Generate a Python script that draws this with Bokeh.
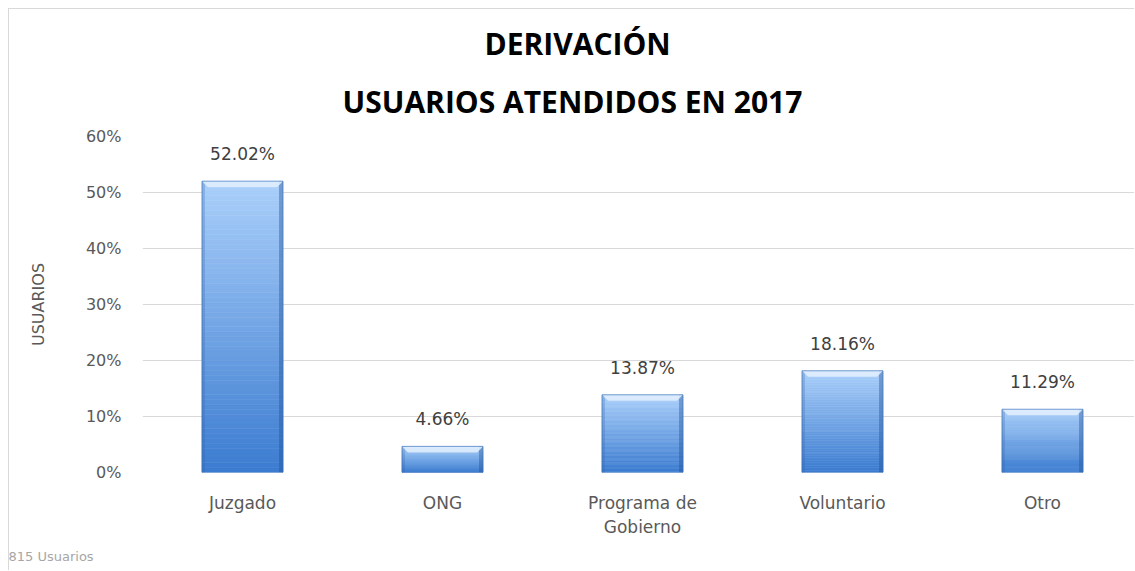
import numpy as np
from bokeh.plotting import figure
from bokeh.models import Range1d, FixedTicker, NumeralTickFormatter, Title, ColumnDataSource
from bokeh.embed import file_html
from bokeh.resources import INLINE
from bokeh.core.properties import value

# ---------------- data ----------------
categories = ["Juzgado", "ONG", "Programa de\nGobierno", "Voluntario", "Otro"]
percent_values = [52.02, 4.66, 13.87, 18.16, 11.29]
value_labels = ["52.02%", "4.66%", "13.87%", "18.16%", "11.29%"]
y_tick_values = [0.0, 0.1, 0.2, 0.3, 0.4, 0.5, 0.6]
title_line1 = "DERIVACIÓN"
title_line2 = "USUARIOS ATENDIDOS EN 2017"
y_axis_title = "USUARIOS"
footnote = "815 Usuarios"

# ---------------- layout ----------------
W, H = 1126, 562
FONT = "DejaVu Sans"
PX_X = 1.0 / 200.0          # x data units per pixel
PX_Y = 0.6 / 336.0          # y data units per pixel

p = figure(width=W, height=H, output_backend="svg", toolbar_location=None,
           x_range=Range1d(0, 993 * PX_X), y_range=Range1d(0, 0.6),
           min_border_left=133, min_border_right=0, min_border_top=127,
           min_border_bottom=99)
p.background_fill_color = "white"
p.border_fill_color = "white"
p.outline_line_color = None
p.styles = {"margin-left": "8px", "margin-top": "8px",
            "border-top": "1px solid #d9d9d9", "border-left": "1px solid #d9d9d9"}

xs = [i + 0.5 for i in range(len(categories))]
fracs = [v / 100.0 for v in percent_values]
bw = 81 * PX_X

# gradient bar bodies
N = 60
top_c = np.array([170, 207, 250])
bot_c = np.array([60, 124, 208])
L, R, B, T, C = [], [], [], [], []
for x, v in zip(xs, fracs):
    for k in range(N):
        f = k / (N - 1)
        c = bot_c + (top_c - bot_c) * f
        L.append(x - bw / 2)
        R.append(x + bw / 2)
        B.append(v * k / N)
        T.append(v * (k + 1) / N)
        C.append("#%02x%02x%02x" % tuple(int(round(t)) for t in c))
p.quad(left=L, right=R, bottom=B, top=T, fill_color=C, line_color=C, line_width=0.6)

# side shading
p.quad(left=[x - bw / 2 for x in xs], right=[x - bw / 2 + 3 * PX_X for x in xs],
       bottom=[0] * len(xs), top=fracs, fill_color="#2a5ea8", fill_alpha=0.25, line_color=None)
p.quad(left=[x + bw / 2 - 4 * PX_X for x in xs], right=[x + bw / 2 for x in xs],
       bottom=[0] * len(xs), top=fracs, fill_color="#1f4f96", fill_alpha=0.40, line_color=None)

# top bevel
bx = 6 * PX_X
by = 6 * PX_Y
pxs, pys = [], []
for x, v in zip(xs, fracs):
    pxs.append([x - bw / 2, x + bw / 2, x + bw / 2 - bx, x - bw / 2 + bx])
    pys.append([v, v, v - by, v - by])
p.patches(pxs, pys, fill_color="#e4f0fe", fill_alpha=0.85, line_color=None)

# outline
p.quad(left=[x - bw / 2 for x in xs], right=[x + bw / 2 for x in xs],
       bottom=[0] * len(xs), top=fracs, fill_color=None, line_color="#3c6fb6",
       line_alpha=0.6, line_width=1)

# value labels
src = ColumnDataSource(dict(x=xs, y=fracs, t=value_labels))
p.text(x="x", y="y", text="t", source=src, text_align="center", text_baseline="bottom",
       y_offset=-17, text_color="#404040", text_font_size="17px", text_font=value(FONT))

# axes
p.xaxis.ticker = FixedTicker(ticks=xs)
p.xaxis.major_label_overrides = {x: c for x, c in zip(xs, categories)}
p.xaxis.axis_line_color = None
p.xaxis.major_tick_line_color = None
p.xaxis.minor_tick_line_color = None
p.xaxis.major_label_standoff = 14
p.xaxis.major_label_text_font = FONT
p.xaxis.major_label_text_font_size = "17px"
p.xaxis.major_label_text_color = "#595959"

p.yaxis.ticker = FixedTicker(ticks=y_tick_values)
p.yaxis.formatter = NumeralTickFormatter(format="0%")
p.yaxis.axis_line_color = None
p.yaxis.major_tick_line_color = None
p.yaxis.minor_tick_line_color = None
p.yaxis.major_label_standoff = 15
p.yaxis.major_label_text_font = FONT
p.yaxis.major_label_text_font_size = "16px"
p.yaxis.major_label_text_color = "#595959"
p.yaxis.axis_label = y_axis_title
p.yaxis.axis_label_standoff = 35
p.yaxis.axis_label_text_font = FONT
p.yaxis.axis_label_text_font_size = "16px"
p.yaxis.axis_label_text_font_style = "normal"
p.yaxis.axis_label_text_color = "#595959"

p.xgrid.grid_line_color = None
p.ygrid.grid_line_color = "#d9d9d9"
p.ygrid.grid_line_width = 1

# titles (first added = closest to the plot)
p.add_layout(Title(text=title_line2, align="left", offset=200, standoff=30,
                   text_font="Open Sans", text_font_size="30px", text_font_style="bold",
                   text_color="#000000"), "above")
p.add_layout(Title(text=title_line1, align="left", offset=342, standoff=0,
                   text_font="Open Sans", text_font_size="30px", text_font_style="bold",
                   text_color="#000000"), "above")
p.add_layout(Title(text=" ", align="left", standoff=4,
                   text_font="Open Sans", text_font_size="4px",
                   text_color="#ffffff"), "above")
p.add_layout(Title(text=footnote, align="left", offset=-134, standoff=14,
                   text_font=FONT, text_font_size="13px", text_font_style="normal",
                   text_color="#a6a6a6"), "below")

open("out.html", "w").write(file_html(p, INLINE))
